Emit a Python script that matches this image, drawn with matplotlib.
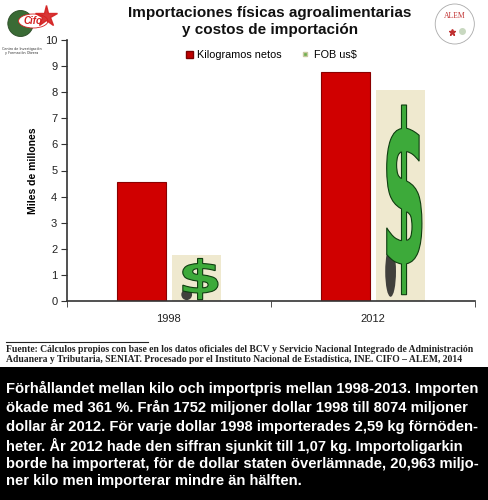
import matplotlib.pyplot as plt
import matplotlib.patches as mpatches
from matplotlib.textpath import TextPath
from matplotlib.font_manager import FontProperties
from matplotlib.transforms import Affine2D
from matplotlib.lines import Line2D

years = ["1998", "2012"]
kilos = [4.57, 8.77]      # miles de millones de kg
fob = [1.752, 8.074]      # miles de millones de us$
y_ticks = [0, 1, 2, 3, 4, 5, 6, 7, 8, 9, 10]

title = "Importaciones físicas agroalimentarias\ny costos de importación"
source = ("Fuente: Cálculos propios con base en los datos oficiales del BCV y Servicio Nacional Integrado de Administración\n"
          "Aduanera y Tributaria, SENIAT. Procesado por el Instituto Nacional de Estadística, INE. CIFO – ALEM, 2014")
caption = ("Förhållandet mellan kilo och importpris mellan 1998-2013. Importen\n"
           "ökade med 361 %. Från 1752 miljoner dollar 1998 till 8074 miljoner\n"
           "dollar år 2012. För varje dollar 1998 importerades 2,59 kg förnöden-\n"
           "heter. År 2012 hade den siffran sjunkit till 1,07 kg. Importoligarkin\n"
           "borde ha importerat, för de dollar staten överlämnade, 20,963 miljo-\n"
           "ner kilo men importerar mindre än hälften.")

sans = "Liberation Sans"

fig = plt.figure(figsize=(4.89, 5.0), dpi=100)
ax = fig.add_axes([0.137, 0.398, 0.834, 0.522])

x = range(len(years))
w = 0.24
off = 0.135
red_x = [i - off for i in x]
fob_x = [i + off for i in x]

ax.bar(red_x, kilos, width=w, color="#d00000", edgecolor="#8a0000", linewidth=0.8, zorder=2)
ax.bar(fob_x, fob, width=w, color="#efe9cf", edgecolor="none", zorder=2)

# green dollar sign stretched into each FOB bar
fp = FontProperties(family="DejaVu Sans", weight="bold")
for xc, h in zip(fob_x, fob):
    # dark shadow at the foot
    ax.add_patch(mpatches.Ellipse((xc - w * 0.2, h * 0.14), w * 0.22, h * 0.24,
                                  facecolor="#222222", alpha=0.85, zorder=2.5))
    tp = TextPath((0, 0), "$", size=1, prop=fp)
    ext = tp.get_extents()
    bw = w * 0.72
    bh = h * 0.9
    tr = (Affine2D().translate(-ext.x0, -ext.y0)
          .scale(bw / ext.width, bh / ext.height)
          .translate(xc - bw / 2 + w * 0.08, h * 0.03))
    ax.add_patch(mpatches.PathPatch(tr.transform_path(tp), facecolor="#3daa3a",
                                    edgecolor="#0f3d10", linewidth=0.8, zorder=3))

ax.set_xlim(-0.5, 1.5)
ax.set_ylim(0, 10)
ax.set_yticks(y_ticks)
ax.set_xticks(list(x))
ax.set_xticklabels(years)
ax.set_xticks([-0.5, 0.5, 1.5], minor=True)
ax.tick_params(axis="x", which="major", length=0, pad=9)
ax.tick_params(axis="x", which="minor", length=4, direction="out", color="#333333")
ax.tick_params(axis="y", length=4, direction="out", color="#333333", pad=3)
for lab in ax.get_xticklabels() + ax.get_yticklabels():
    lab.set_family(sans)
    lab.set_fontsize(8)
    lab.set_color("#222222")
for s in ["top", "right"]:
    ax.spines[s].set_visible(False)
for s in ["left", "bottom"]:
    ax.spines[s].set_color("#333333")
    ax.spines[s].set_linewidth(1.2)

ax.set_ylabel("Miles de millones", family=sans, fontweight="bold", fontsize=7.5, labelpad=5)

handles = [mpatches.Patch(facecolor="#c00000", edgecolor="#7a0000"),
           Line2D([], [], marker="s", markersize=3, linestyle="none",
                  markerfacecolor="#6ab04c", markeredgecolor="#c8c8a0")]
ax.legend(handles, ["Kilogramos netos", "FOB us$"], loc="upper center",
          bbox_to_anchor=(0.5, 0.998), ncol=2, frameon=False,
          prop={"family": sans, "size": 7.8}, handlelength=0.7, handleheight=0.7,
          columnspacing=1.8, handletextpad=0.4)

fig.text(0.552, 0.988, title, ha="center", va="top", family=sans,
         fontweight="bold", fontsize=11, linespacing=1.3, color="#111111")

# CIFO logo
fig.patches.append(mpatches.Circle((0.042, 0.953), 0.026, transform=fig.transFigure,
                                   facecolor="#3a6b35", edgecolor="#2a4a25", linewidth=0.6))
fig.patches.append(mpatches.Ellipse((0.068, 0.958), 0.06, 0.028, transform=fig.transFigure,
                                    facecolor="white", edgecolor="#d42020", linewidth=0.6))
fig.add_artist(Line2D([0.095], [0.968], marker="*", markersize=16, color="#d42020",
                      markeredgecolor="#d42020", alpha=0.9))
fig.text(0.068, 0.958, "Cifo", fontsize=7, color="#d42020", fontweight="bold",
         ha="center", va="center", style="italic", family=sans)
fig.text(0.045, 0.906, "Centro de Investigación\ny Formación Obrera", fontsize=2.4,
         color="#333333", ha="center", va="top", linespacing=1.1)

# ALEM logo
fig.patches.append(mpatches.Circle((0.93, 0.952), 0.04, transform=fig.transFigure,
                                   facecolor="white", edgecolor="#aaaaaa", linewidth=0.6))
fig.text(0.93, 0.968, "ALEM", fontsize=5.5, color="#c03030", family="Liberation Serif",
         ha="center", va="center")
fig.add_artist(Line2D([0.925], [0.936], marker="*", markersize=5, color="#c03030"))
fig.add_artist(Line2D([0.945], [0.938], marker="o", markersize=4, color="#c8d8c0"))

# footnote
fig.add_artist(Line2D([0.012, 0.302], [0.316, 0.316], color="#222222", linewidth=0.8))
fig.text(0.012, 0.311, source, ha="left", va="top", family="Liberation Serif",
         fontweight="bold", fontsize=6.9, linespacing=1.2, color="#222222")

# black caption box
fig.patches.append(mpatches.Rectangle((0, 0), 1, 0.266, transform=fig.transFigure,
                                      facecolor="black", edgecolor="none"))
fig.text(0.012, 0.238, caption, ha="left", va="top", family=sans,
         fontweight="bold", fontsize=10.6, linespacing=1.3, color="white")

fig.savefig("out.png", dpi=100)
